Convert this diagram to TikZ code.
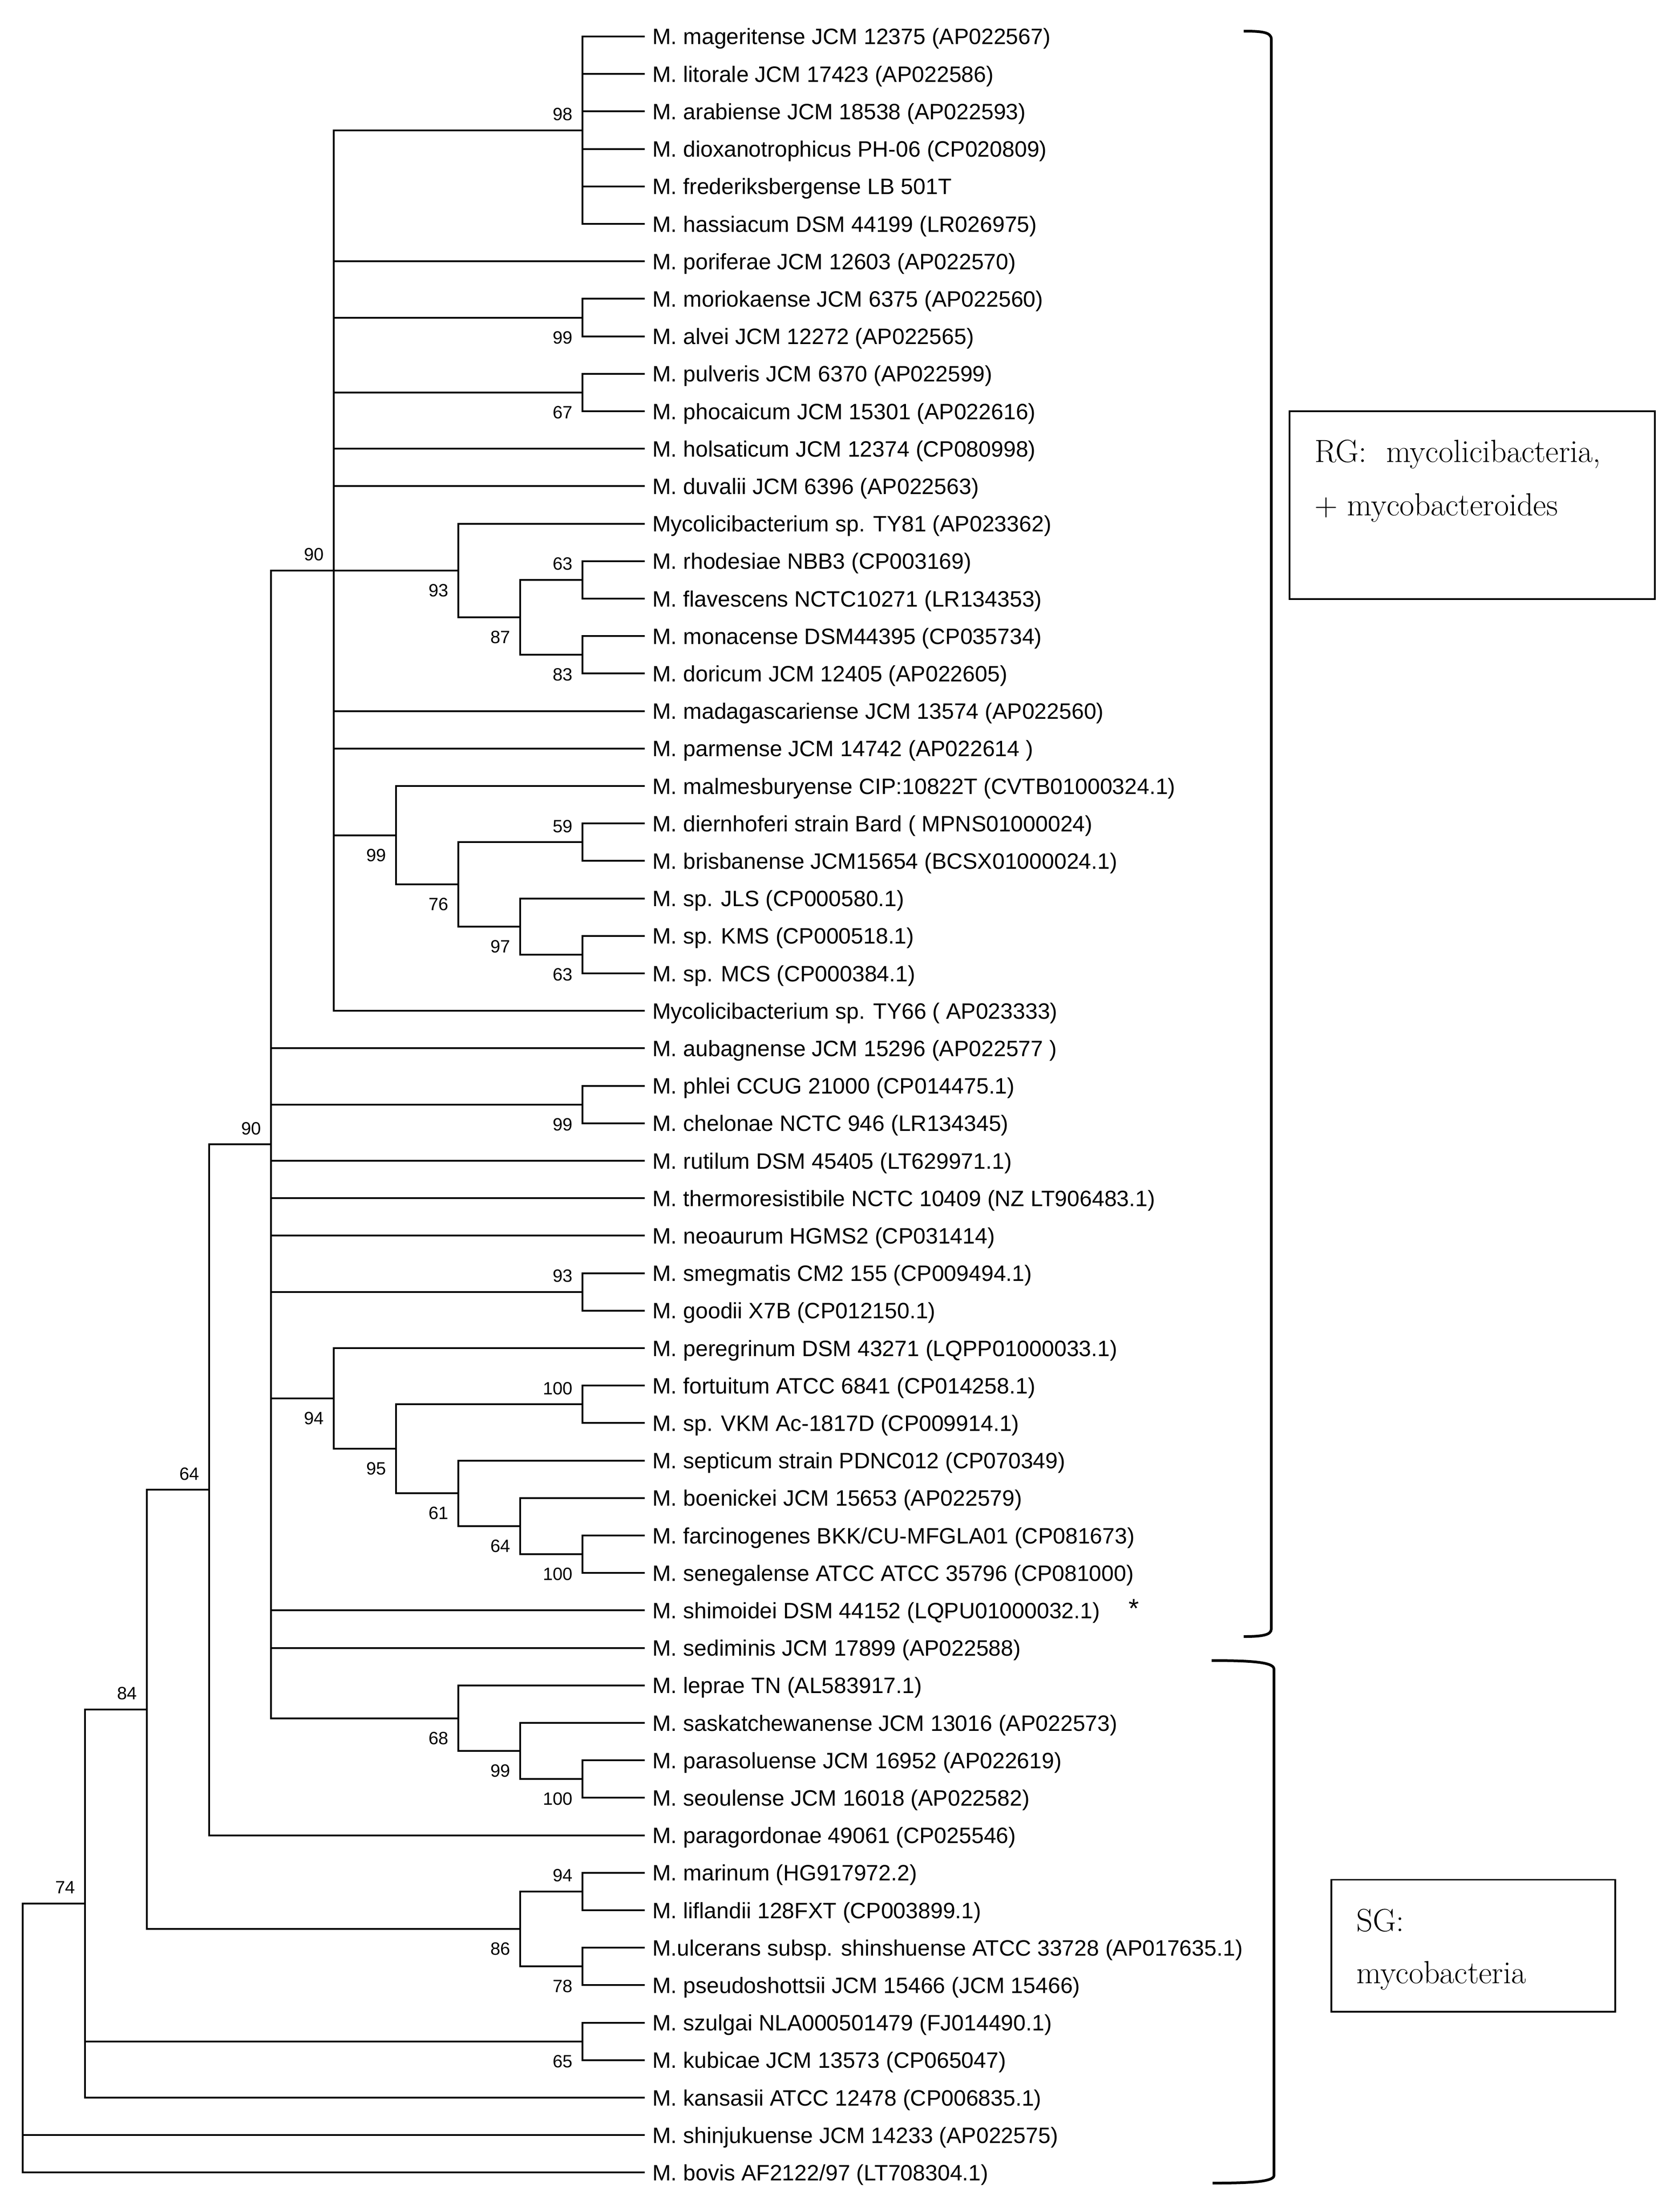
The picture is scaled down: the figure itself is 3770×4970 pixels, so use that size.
\documentclass[tikz,border=0pt]{standalone}
\usepackage{fontspec}
\newfontfamily\leaffont{Liberation Sans}
\newcommand\leaflab[2]{\node[leaf] (l#1) at ([xshift=17pt,yshift=-18pt]t#1) {#2};}
\newcommand\treeedge[2]{\foreach \c in {#2} {\draw[branch] (#1) |- (\c);}}
\begin{document}
\begin{tikzpicture}[x=1pt,y=-1pt,
  branch/.style={line width=4pt},
  leaf/.style={font=\leaffont\fontsize{50}{58}\selectfont, anchor=base west, inner sep=0pt},
  boot/.style={font=\leaffont\fontsize{40}{48}\selectfont, anchor=base east, inner sep=0pt},
  bup/.style={boot, xshift=-22pt, yshift=22pt},
  bdn/.style={boot, xshift=-22pt, yshift=-58.5pt},
  brk/.style={line width=6pt},
  grpbox/.style={draw, line width=3.5pt, inner sep=0pt},
  grptext/.style={font=\fontsize{72}{86}\selectfont, anchor=base west, inner sep=0pt}]
\useasboundingbox (0,0) rectangle (3770,4970);
% leaf tips
\foreach \i in {1,...,58} {\coordinate (t\i) at (1449,{82+(\i-1)*84.2});}
% internal nodes
\coordinate (n98) at (1309,292.5);
\coordinate (n99a) at (1309,713.5);
\coordinate (n67) at (1309,881.9);
\coordinate (n63a) at (1309,1302.9);
\coordinate (n83) at (1309,1471.3);
\coordinate (n87) at (1169,1387.1);
\coordinate (n93a) at (1030,1281.85);
\coordinate (n59) at (1309,1892.3);
\coordinate (n63b) at (1309,2144.9);
\coordinate (n97) at (1169,2081.75);
\coordinate (n76) at (1030,1987.0);
\coordinate (n99b) at (890,1876.5);
\coordinate (n90a) at (750,1281.85);
\coordinate (n99c) at (1309,2481.7);
\coordinate (n93b) at (1309,2902.7);
\coordinate (n100a) at (1309,3155.3);
\coordinate (n100b) at (1309,3492.1);
\coordinate (n64b) at (1169,3428.95);
\coordinate (n61) at (1030,3355.3);
\coordinate (n95) at (890,3255.3);
\coordinate (n94a) at (750,3142.15);
\coordinate (n100c) at (1309,3997.3);
\coordinate (n99d) at (1169,3934.15);
\coordinate (n68) at (1030,3860.5);
\coordinate (n90b) at (609,2571.2);
\coordinate (n64a) at (470,3347.4);
\coordinate (n94b) at (1309,4249.9);
\coordinate (n78) at (1309,4418.3);
\coordinate (n86) at (1169,4334.1);
\coordinate (n84) at (330,3840.75);
\coordinate (n65) at (1309,4586.7);
\coordinate (n74) at (191,4276.9);
\coordinate (root) at (51,4579.15);
% branches
\treeedge{root}{n74,t57,t58}
\treeedge{n74}{n84,n65,t56}
\treeedge{n84}{n64a,n86}
\treeedge{n86}{n94b,n78}
\treeedge{n94b}{t50,t51}
\treeedge{n78}{t52,t53}
\treeedge{n65}{t54,t55}
\treeedge{n64a}{n90b,t49}
\treeedge{n90b}{n90a,t28,n99c,t31,t32,t33,n93b,n94a,t43,t44,n68}
\treeedge{n68}{t45,n99d}
\treeedge{n99d}{t46,n100c}
\treeedge{n100c}{t47,t48}
\treeedge{n94a}{t36,n95}
\treeedge{n95}{n100a,n61}
\treeedge{n100a}{t37,t38}
\treeedge{n61}{t39,n64b}
\treeedge{n64b}{t40,n100b}
\treeedge{n100b}{t41,t42}
\treeedge{n93b}{t34,t35}
\treeedge{n99c}{t29,t30}
\treeedge{n90a}{n98,t7,n99a,n67,t12,t13,n93a,t19,t20,n99b,t27}
\treeedge{n98}{t1,t2,t3,t4,t5,t6}
\treeedge{n99a}{t8,t9}
\treeedge{n67}{t10,t11}
\treeedge{n93a}{t14,n87}
\treeedge{n87}{n63a,n83}
\treeedge{n63a}{t15,t16}
\treeedge{n83}{t17,t18}
\treeedge{n99b}{t21,n76}
\treeedge{n76}{n59,n97}
\treeedge{n59}{t22,t23}
\treeedge{n97}{t24,n63b}
\treeedge{n63b}{t25,t26}
% bootstrap values
\node[bup] (b98) at (n98) {98};
\node[bdn] (b99a) at (n99a) {99};
\node[bdn] (b67) at (n67) {67};
\node[bup] (b90a) at (n90a) {90};
\node[bup] (b63a) at (n63a) {63};
\node[bdn] (b93a) at (n93a) {93};
\node[bdn] (b87) at (n87) {87};
\node[bdn] (b83) at (n83) {83};
\node[bup] (b59) at (n59) {59};
\node[bdn] (b99b) at (n99b) {99};
\node[bdn] (b76) at (n76) {76};
\node[bdn] (b97) at (n97) {97};
\node[bdn] (b63b) at (n63b) {63};
\node[bdn] (b99c) at (n99c) {99};
\node[bup] (b90b) at (n90b) {90};
\node[bup] (b93b) at (n93b) {93};
\node[bup] (b100a) at (n100a) {100};
\node[bdn] (b94a) at (n94a) {94};
\node[bdn] (b95) at (n95) {95};
\node[bdn] (b61) at (n61) {61};
\node[bdn] (b64b) at (n64b) {64};
\node[bdn] (b100b) at (n100b) {100};
\node[bup] (b64a) at (n64a) {64};
\node[bup] (b84) at (n84) {84};
\node[bdn] (b68) at (n68) {68};
\node[bdn] (b99d) at (n99d) {99};
\node[bdn] (b100c) at (n100c) {100};
\node[bup] (b94b) at (n94b) {94};
\node[bdn] (b86) at (n86) {86};
\node[bdn] (b78) at (n78) {78};
\node[bdn] (b65) at (n65) {65};
\node[bup] (b74) at (n74) {74};
% leaf labels
\leaflab{1}{M. mageritense JCM 12375 (AP022567)}
\leaflab{2}{M. litorale JCM 17423 (AP022586)}
\leaflab{3}{M. arabiense JCM 18538 (AP022593)}
\leaflab{4}{M. dioxanotrophicus PH-06 (CP020809)}
\leaflab{5}{M. frederiksbergense LB 501T}
\leaflab{6}{M. hassiacum DSM 44199 (LR026975)}
\leaflab{7}{M. poriferae JCM 12603 (AP022570)}
\leaflab{8}{M. moriokaense JCM 6375 (AP022560)}
\leaflab{9}{M. alvei JCM 12272 (AP022565)}
\leaflab{10}{M. pulveris JCM 6370 (AP022599)}
\leaflab{11}{M. phocaicum JCM 15301 (AP022616)}
\leaflab{12}{M. holsaticum JCM 12374 (CP080998)}
\leaflab{13}{M. duvalii JCM 6396 (AP022563)}
\leaflab{14}{Mycolicibacterium sp. TY81 (AP023362)}
\leaflab{15}{M. rhodesiae NBB3 (CP003169)}
\leaflab{16}{M. flavescens NCTC10271 (LR134353)}
\leaflab{17}{M. monacense DSM44395 (CP035734)}
\leaflab{18}{M. doricum JCM 12405 (AP022605)}
\leaflab{19}{M. madagascariense JCM 13574 (AP022560)}
\leaflab{20}{M. parmense JCM 14742 (AP022614 )}
\leaflab{21}{M. malmesburyense CIP:10822T (CVTB01000324.1)}
\leaflab{22}{M. diernhoferi strain Bard ( MPNS01000024)}
\leaflab{23}{M. brisbanense JCM15654 (BCSX01000024.1)}
\leaflab{24}{M. sp. JLS (CP000580.1)}
\leaflab{25}{M. sp. KMS (CP000518.1)}
\leaflab{26}{M. sp. MCS (CP000384.1)}
\leaflab{27}{Mycolicibacterium sp. TY66 ( AP023333)}
\leaflab{28}{M. aubagnense JCM 15296 (AP022577 )}
\leaflab{29}{M. phlei CCUG 21000 (CP014475.1)}
\leaflab{30}{M. chelonae NCTC 946 (LR134345)}
\leaflab{31}{M. rutilum DSM 45405 (LT629971.1)}
\leaflab{32}{M. thermoresistibile NCTC 10409 (NZ LT906483.1)}
\leaflab{33}{M. neoaurum HGMS2 (CP031414)}
\leaflab{34}{M. smegmatis CM2 155 (CP009494.1)}
\leaflab{35}{M. goodii X7B (CP012150.1)}
\leaflab{36}{M. peregrinum DSM 43271 (LQPP01000033.1)}
\leaflab{37}{M. fortuitum ATCC 6841 (CP014258.1)}
\leaflab{38}{M. sp. VKM Ac-1817D (CP009914.1)}
\leaflab{39}{M. septicum strain PDNC012 (CP070349)}
\leaflab{40}{M. boenickei JCM 15653 (AP022579)}
\leaflab{41}{M. farcinogenes BKK/CU-MFGLA01 (CP081673)}
\leaflab{42}{M. senegalense ATCC ATCC 35796 (CP081000)}
\leaflab{43}{M. shimoidei DSM 44152 (LQPU01000032.1)}
\leaflab{44}{M. sediminis JCM 17899 (AP022588)}
\leaflab{45}{M. leprae TN (AL583917.1)}
\leaflab{46}{M. saskatchewanense JCM 13016 (AP022573)}
\leaflab{47}{M. parasoluense JCM 16952 (AP022619)}
\leaflab{48}{M. seoulense JCM 16018 (AP022582)}
\leaflab{49}{M. paragordonae 49061 (CP025546)}
\leaflab{50}{M. marinum (HG917972.2)}
\leaflab{51}{M. liflandii 128FXT (CP003899.1)}
\leaflab{52}{M.ulcerans subsp. shinshuense ATCC 33728 (AP017635.1)}
\leaflab{53}{M. pseudoshottsii JCM 15466 (JCM 15466)}
\leaflab{54}{M. szulgai NLA000501479 (FJ014490.1)}
\leaflab{55}{M. kubicae JCM 13573 (CP065047)}
\leaflab{56}{M. kansasii ATCC 12478 (CP006835.1)}
\leaflab{57}{M. shinjukuense JCM 14233 (AP022575)}
\leaflab{58}{M. bovis AF2122/97 (LT708304.1)}
\node[font=\leaffont\fontsize{60}{70}\selectfont, anchor=base, inner sep=0pt] (star) at (2548,3634) {*};
% group brackets
\draw[brk] (2795,70) .. controls (2835,70) and (2857,72) .. (2857,88) -- (2857,3660) .. controls (2857,3674) and (2835,3677) .. (2795,3677);
\draw[brk] (2723,3731) .. controls (2800,3731) and (2863,3733) .. (2863,3750) -- (2863,4888) .. controls (2863,4903) and (2800,4905) .. (2725,4905);
% group boxes
\node[grpbox, minimum width=821pt, minimum height=422pt] (rgbox) at (3308.5,1135) {};
\node[grptext] (rg1) at (2954,1038) {RG:\ \ mycolicibacteria,};
\node[grptext] (rg2) at (2954,1158) {+ mycobacteroides};
\node[grpbox, minimum width=638pt, minimum height=296.5pt] (sgbox) at (3311,4371.75) {};
\node[grptext] (sg1) at (3048,4339) {SG:};
\node[grptext] (sg2) at (3048,4456) {mycobacteria};
\end{tikzpicture}
\end{document}
